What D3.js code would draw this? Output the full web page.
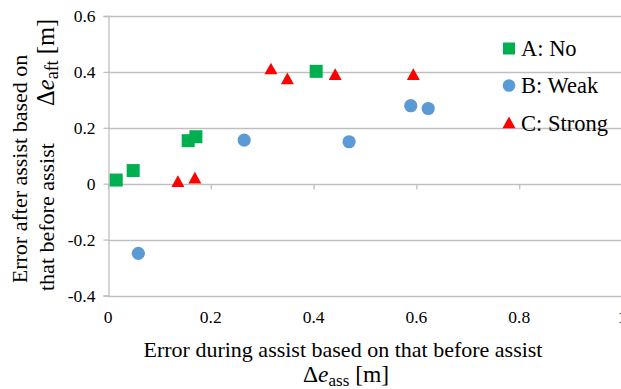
<!DOCTYPE html>
<html>
<head>
<meta charset="utf-8">
<script src="https://cdn.jsdelivr.net/npm/d3@7"></script>
<style>
  body { margin: 0; background: #fff; }
  svg text { font-family: "Liberation Serif", "Times New Roman", serif !important; fill: #000; }
</style>
</head>
<body>
<div id="chart"></div>
<script>
// series values
var noX = [0.016, 0.049, 0.156, 0.171, 0.405];
var noY = [0.013, 0.047, 0.154, 0.168, 0.402];

var weakX = [0.059, 0.265, 0.469, 0.589, 0.623];
var weakY = [-0.249, 0.156, 0.150, 0.279, 0.269];

var strongX = [0.136, 0.169, 0.317, 0.349, 0.442, 0.594];
var strongY = [0.007, 0.020, 0.410, 0.375, 0.390, 0.390];

var seriesNames = ["A: No", "B: Weak", "C: Strong"];
var xTicks = [0, 0.2, 0.4, 0.6, 0.8, 1];
var yTicks = [-0.4, -0.2, 0, 0.2, 0.4, 0.6];

var width = 621, height = 389;
var grid = "#bfbfbf";
var serif = "'Liberation Serif', 'Times New Roman', serif";

var x = d3.scaleLinear().domain([0, 1]).range([108, 622]);
var y = d3.scaleLinear().domain([-0.4, 0.6]).range([295.5, 16]);

var svg = d3.select("#chart").append("svg")
  .attr("width", width)
  .attr("height", height)
  .attr("font-family", serif);

// horizontal gridlines
svg.append("g").selectAll("line")
  .data(yTicks.filter(function (d) { return d !== 0; }))
  .enter().append("line")
  .attr("x1", x(0)).attr("x2", width)
  .attr("y1", function (d) { return Math.round(y(d)) + 0.5; })
  .attr("y2", function (d) { return Math.round(y(d)) + 0.5; })
  .attr("stroke", grid).attr("stroke-width", 1.3);

// y axis
var yAxis = d3.axisLeft(y).tickValues(yTicks).tickSize(5);
var ya = svg.append("g")
  .attr("transform", "translate(" + (Math.round(x(0)) + 0.5) + ",0)")
  .call(yAxis)
  .attr("font-family", serif)
  .attr("font-size", null);
ya.select(".domain").attr("stroke", grid).attr("stroke-width", 1.3);
ya.selectAll(".tick line").attr("stroke", grid).attr("stroke-width", 1.3);
ya.selectAll(".tick text")
  .attr("x", -13)
  .style("font-size", "17.5px")
  .style("font-family", serif)
  .text(function (d) { return d3.format("~g")(d).replace("−", "-"); });

// x axis through zero, labels at the bottom
var xAxis = d3.axisBottom(x).tickValues(xTicks).tickSize(5).tickFormat("");
var xa = svg.append("g")
  .attr("transform", "translate(0," + (Math.round(y(0)) + 0.5) + ")")
  .call(xAxis);
xa.select(".domain").attr("stroke", grid).attr("stroke-width", 1.3).attr("d", "M" + x(0) + ",0H" + width);
xa.selectAll(".tick line").attr("stroke", grid).attr("stroke-width", 1.3);

svg.append("g").selectAll("text")
  .data(xTicks)
  .enter().append("text")
  .attr("x", function (d) { return x(d); })
  .attr("y", 323)
  .attr("text-anchor", "middle")
  .style("font-family", serif)
  .style("font-size", "17.5px")
  .text(function (d) { return d3.format("~g")(d); });

// markers
var sq = 13, r = 6.6, tri = 13;
svg.append("g").selectAll("rect")
  .data(d3.zip(noX, noY))
  .enter().append("rect")
  .attr("x", function (d) { return x(d[0]) - sq / 2; })
  .attr("y", function (d) { return y(d[1]) - sq / 2; })
  .attr("width", sq).attr("height", sq)
  .attr("fill", "#00b050");

svg.append("g").selectAll("circle")
  .data(d3.zip(weakX, weakY))
  .enter().append("circle")
  .attr("cx", function (d) { return x(d[0]); })
  .attr("cy", function (d) { return y(d[1]); })
  .attr("r", r)
  .attr("fill", "#5b9bd5");

var triPath = function (cx, cy, s) {
  var h = s * 0.9;
  return "M" + cx + "," + (cy - h * 0.55) + "L" + (cx + s / 2) + "," + (cy + h * 0.45) + "L" + (cx - s / 2) + "," + (cy + h * 0.45) + "Z";
};
svg.append("g").selectAll("path")
  .data(d3.zip(strongX, strongY))
  .enter().append("path")
  .attr("d", function (d) { return triPath(x(d[0]), y(d[1]), tri); })
  .attr("fill", "#ff0000");

// legend
var lg = svg.append("g");
var ly = [48.5, 85.5, 123];
lg.append("rect").attr("x", 503).attr("y", ly[0] - 6).attr("width", 12).attr("height", 12).attr("fill", "#00b050");
lg.append("circle").attr("cx", 509).attr("cy", ly[1]).attr("r", 6.3).attr("fill", "#5b9bd5");
lg.append("path").attr("d", triPath(509, ly[2], 13)).attr("fill", "#ff0000");
lg.selectAll("text")
  .data(seriesNames)
  .enter().append("text")
  .attr("x", 521)
  .attr("y", function (d, i) { return ly[i] + 7.5; })
  .style("font-family", serif)
  .style("font-size", "22.5px")
  .text(function (d) { return d; });

// x axis title
var xt = svg.append("g");
xt.append("text")
  .attr("x", 343).attr("y", 357)
  .attr("text-anchor", "middle")
  .style("font-family", serif)
  .style("font-size", "22px")
  .text("Error during assist based on that before assist");
var xt2 = xt.append("text")
  .attr("x", 346).attr("y", 382)
  .attr("text-anchor", "middle")
  .style("font-family", serif)
  .style("font-size", "23.5px");
xt2.append("tspan").text("Δ");
xt2.append("tspan").style("font-style", "italic").text("e");
xt2.append("tspan").attr("dy", 4).style("font-size", "17px").text("ass");
xt2.append("tspan").attr("dy", -4).text(" [m]");

// y axis title (rotated)
var yt = svg.append("g");
yt.append("text")
  .attr("transform", "translate(27,169) rotate(-90)")
  .attr("text-anchor", "middle")
  .style("font-family", serif)
  .style("font-size", "22px")
  .text("Error after assist based on");
yt.append("text")
  .attr("transform", "translate(54,291) rotate(-90)")
  .attr("text-anchor", "start")
  .style("font-family", serif)
  .style("font-size", "22px")
  .text("that before assist");
var yt3 = yt.append("text")
  .attr("transform", "translate(54,106) rotate(-90)")
  .attr("text-anchor", "start")
  .style("font-family", serif)
  .style("font-size", "24.5px");
yt3.append("tspan").text("Δ");
yt3.append("tspan").style("font-style", "italic").text("e");
yt3.append("tspan").attr("dy", 4).style("font-size", "18px").text("aft");
yt3.append("tspan").attr("dy", -4).text(" [m]");
</script>
</body>
</html>
